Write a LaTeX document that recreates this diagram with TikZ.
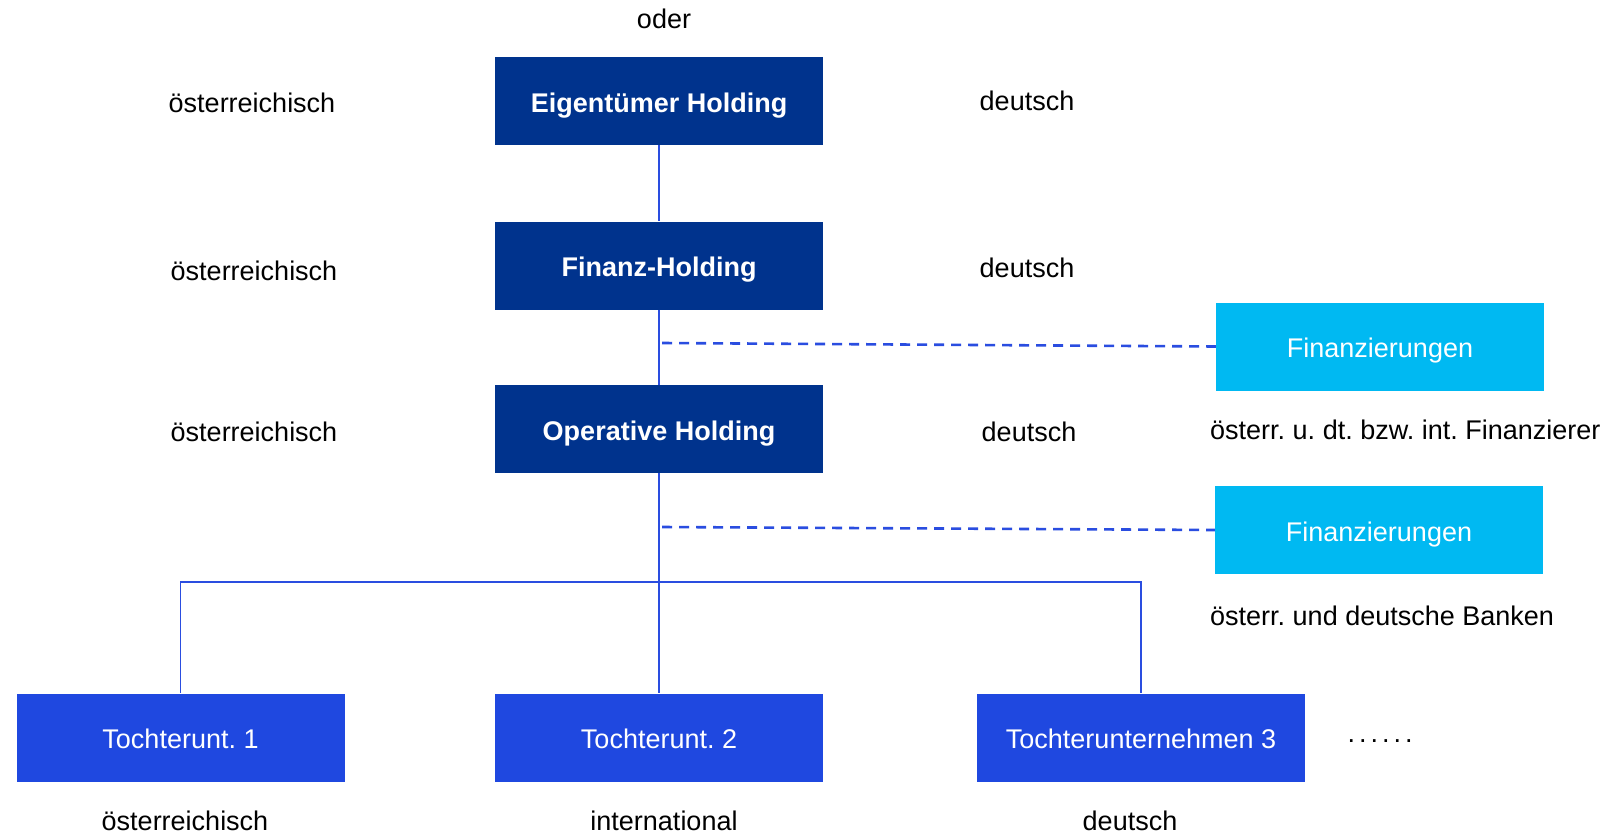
\documentclass[tikz,border=0pt]{standalone}
\usepackage{fontspec}
\setmainfont{Liberation Sans}
\frenchspacing
\definecolor{navy}{RGB}{0,51,141}
\definecolor{tblue}{RGB}{31,72,224}
\definecolor{cyanbox}{RGB}{0,185,242}
\definecolor{linecol}{RGB}{42,77,224}
\tikzset{
  base/.style={x=1pt,y=-1pt},
  box/.style={rectangle, minimum width=328pt, minimum height=88pt, inner sep=0pt, text=white, text height=26pt, text depth=4pt, font=\fontsize{27}{30}\selectfont},
  holdbox/.style={box, fill=navy, font=\fontsize{27}{30}\selectfont\bfseries},
  finbox/.style={box, fill=cyanbox},
  tbox/.style={box, fill=tblue},
  lbl/.style={inner sep=0pt, font=\fontsize{27}{30}\selectfont, text=black},
  conn/.style={draw=linecol, line width=1.8pt},
  dashconn/.style={draw=linecol, line width=2.6pt, dash pattern=on 10pt off 7pt}
}
\begin{document}
\begin{tikzpicture}[base]
\useasboundingbox (0,0) rectangle (1613,835);
\fill[white] (0,0) rectangle (1613,835);
% boxes
\node[holdbox] (eig) at (659,101) {Eigentümer Holding};
\node[holdbox] (fh) at (659,265.5) {Finanz-Holding};
\node[holdbox] (op) at (659,429) {Operative Holding};
\node[finbox] (fin1) at (1380,346.5) {Finanzierungen};
\node[finbox] (fin2) at (1379,530) {Finanzierungen};
\node[tbox] (t1) at (180.5,737.5) {Tochterunt. 1};
\node[tbox] (t2) at (659,737.5) {Tochterunt. 2};
\node[tbox] (t3) at (1141,737.5) {Tochterunternehmen 3};
% labels
\node[lbl] (oder) at (664,19) {oder};
\node[lbl] (a1) at (252,103) {österreichisch};
\node[lbl] (a2) at (254,271) {österreichisch};
\node[lbl] (a3) at (254,432) {österreichisch};
\node[lbl] (d1) at (1027,101) {deutsch};
\node[lbl] (d2) at (1027,268) {deutsch};
\node[lbl] (d3) at (1029,432) {deutsch};
\node[lbl, anchor=west] (fin1l) at (1210,430) {österr. u. dt. bzw. int. Finanzierer};
\node[lbl, anchor=west] (fin2l) at (1210,616) {österr. und deutsche Banken};
\node[lbl] (b1) at (185,821) {österreichisch};
\node[lbl] (b2) at (664,821) {international};
\node[lbl] (b3) at (1130,821) {deutsch};
\node[lbl, anchor=base] (dots) at (1380,742) {.\hspace{4pt}.\hspace{4pt}.\hspace{4pt}.\hspace{4pt}.\hspace{4pt}.};
% connectors
\draw[conn] (eig.south) -- (fh.north);
\draw[conn] (fh.south) -- (op.north);
\coordinate (c1) at (662,343);
\coordinate (c2) at (662,527);
\draw[dashconn] (c1) -- (fin1.west);
\draw[dashconn] (c2) -- (fin2.west);
\coordinate (j) at (659,582);
\draw[conn] (op.south) -- (j);
\draw[conn] (j) -| (t1.north);
\draw[conn] (j) -- (t2.north);
\draw[conn] (j) -| (t3.north);
\end{tikzpicture}
\end{document}
